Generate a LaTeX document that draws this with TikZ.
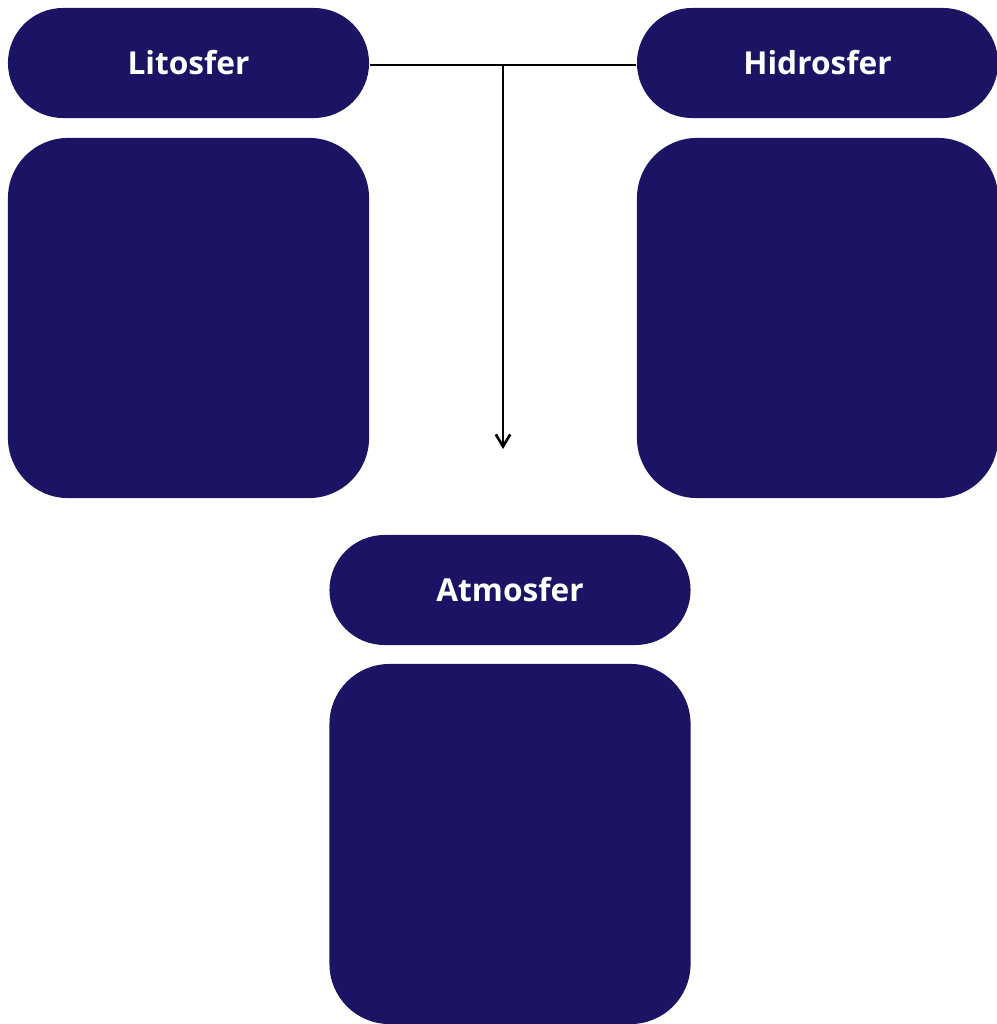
\documentclass[tikz,border=0pt]{standalone}
\usepackage{fontspec}
\setmainfont{Open Sans}
\usetikzlibrary{arrows.meta}
\definecolor{navy}{RGB}{27,20,100}
\begin{document}
\begin{tikzpicture}[x = 0.025cm, y = -0.025cm, line width = 1.9pt,
                    pill/.style    = {rectangle, rounded corners = 1.375cm, fill = navy, text = white, minimum width = 9.025cm, minimum height = 2.75cm, inner sep = 0pt, font = \fontsize{22.5}{26}\selectfont\bfseries},
                    panel/.style   = {rectangle, rounded corners = 1.5cm, fill = navy, minimum width = 9.025cm, minimum height = 9cm, inner sep = 0pt}
                    ]
    \useasboundingbox (0, 0) rectangle (997, 1024);

    \node[pill]  (lito)    at (188.5, 63) {Litosfer};
    \node[panel] (litobox) at (188.5, 318) {};
    \node[pill]  (hidro)    at (817.5, 63) {Hidrosfer};
    \node[panel] (hidrobox) at (817.5, 318) {};
    \node[pill]  (atmo)    at (510, 590) {Atmosfer};
    \node[panel] (atmobox) at (510, 844) {};

    \coordinate (junc) at (503, 65);
    \coordinate (tip) at (503, 449);

    \draw (lito.east |- junc) -- (hidro.west |- junc);
    \draw[-{Straight Barb[length = 0.3cm, width = 0.36cm]}] (junc) -- (tip);
\end{tikzpicture}
\end{document}
